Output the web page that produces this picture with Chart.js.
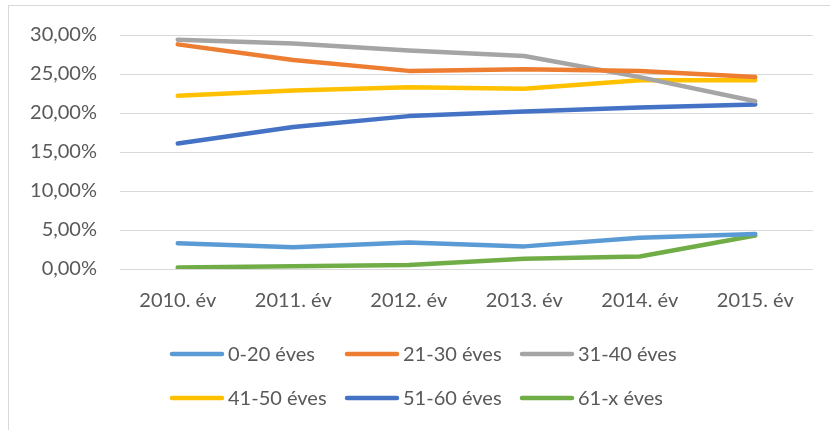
<!DOCTYPE html>
<html>
<head>
<meta charset="utf-8">
<script src="https://cdn.jsdelivr.net/npm/chart.js"></script>
<style>
  html, body { margin: 0; padding: 0; background: #fff; }
  #wrap { position: relative; width: 830px; height: 430px; }
  #frame { position: absolute; left: 8px; top: 5px; right: -5px; bottom: -5px;
           border-left: 1px solid #d9d9d9; border-top: 1px solid #d9d9d9; }
  canvas { position: absolute; left: 0; top: 0; }
</style>
</head>
<body>
<div id="wrap">
  <div id="frame"></div>
  <canvas id="lineChart" width="830" height="430"></canvas>
</div>
<script>
// évek (kategóriák)
const evek = ['2010. év', '2011. év', '2012. év', '2013. év', '2014. év', '2015. év'];

// korcsoportok aránya, %
const kor0_20  = [3.3, 2.8, 3.4, 2.9, 4.0, 4.5];
const kor21_30 = [28.8, 26.8, 25.4, 25.6, 25.4, 24.6];
const kor31_40 = [29.4, 28.9, 28.0, 27.3, 24.6, 21.5];
const kor41_50 = [22.2, 22.9, 23.3, 23.1, 24.2, 24.2];
const kor51_60 = [16.1, 18.2, 19.6, 20.2, 20.7, 21.1];
const kor61_x  = [0.2, 0.35, 0.5, 1.3, 1.6, 4.3];

const nevek = ['0-20 éves', '21-30 éves', '31-40 éves', '41-50 éves', '51-60 éves', '61-x éves'];
const szinek = ['#5B9BD5', '#ED7D31', '#A5A5A5', '#FFC000', '#4472C4', '#70AD47'];
const sorok = [kor0_20, kor21_30, kor31_40, kor41_50, kor51_60, kor61_x];

const FONT = 'Lato, "Open Sans", sans-serif';
const TEXT = '#595959';

// saját jelmagyarázat: 3 elem soronként, mint az Excelben
const legendPlugin = {
  id: 'excelLegend',
  afterDraw(chart) {
    const ctx = chart.ctx;
    ctx.save();
    ctx.font = '20px ' + FONT;
    ctx.fillStyle = TEXT;
    ctx.textBaseline = 'middle';
    ctx.lineCap = 'round';
    ctx.lineWidth = 4.5;
    chart.data.datasets.forEach((ds, i) => {
      const x = 172 + (i % 3) * 175;
      const y = 354 + Math.floor(i / 3) * 44;
      ctx.strokeStyle = ds.borderColor;
      ctx.beginPath();
      ctx.moveTo(x, y);
      ctx.lineTo(x + 50, y);
      ctx.stroke();
      ctx.fillText(ds.label, x + 56, y + 1);
    });
    ctx.restore();
  }
};

new Chart(document.getElementById('lineChart').getContext('2d'), {
  type: 'line',
  data: {
    labels: evek,
    datasets: sorok.map((d, i) => ({
      label: nevek[i],
      data: d,
      borderColor: szinek[i],
      backgroundColor: szinek[i],
      borderWidth: 4.5,
      borderCapStyle: 'round',
      borderJoinStyle: 'round',
      pointRadius: 0,
      tension: 0,
      fill: false
    }))
  },
  options: {
    responsive: false,
    animation: false,
    layout: { padding: { top: 35, right: 17, bottom: 0, left: 0 } },
    plugins: {
      legend: { display: false },
      tooltip: { enabled: false }
    },
    scales: {
      x: {
        offset: true,
        grid: { display: false, drawTicks: false },
        border: { display: false },
        ticks: { color: TEXT, font: { family: FONT, size: 20 }, padding: 20, maxRotation: 0 },
        afterFit(scale) { scale.height = 161; }
      },
      y: {
        min: 0,
        max: 30,
        grid: { color: '#d9d9d9', lineWidth: 1, drawTicks: false },
        border: { display: false },
        ticks: {
          stepSize: 5,
          color: TEXT,
          font: { family: FONT, size: 20 },
          padding: 23,
          callback: v => v.toFixed(2).replace('.', ',') + '%'
        },
        afterFit(scale) { scale.width = 120; }
      }
    }
  },
  plugins: [legendPlugin]
});
</script>
</body>
</html>
